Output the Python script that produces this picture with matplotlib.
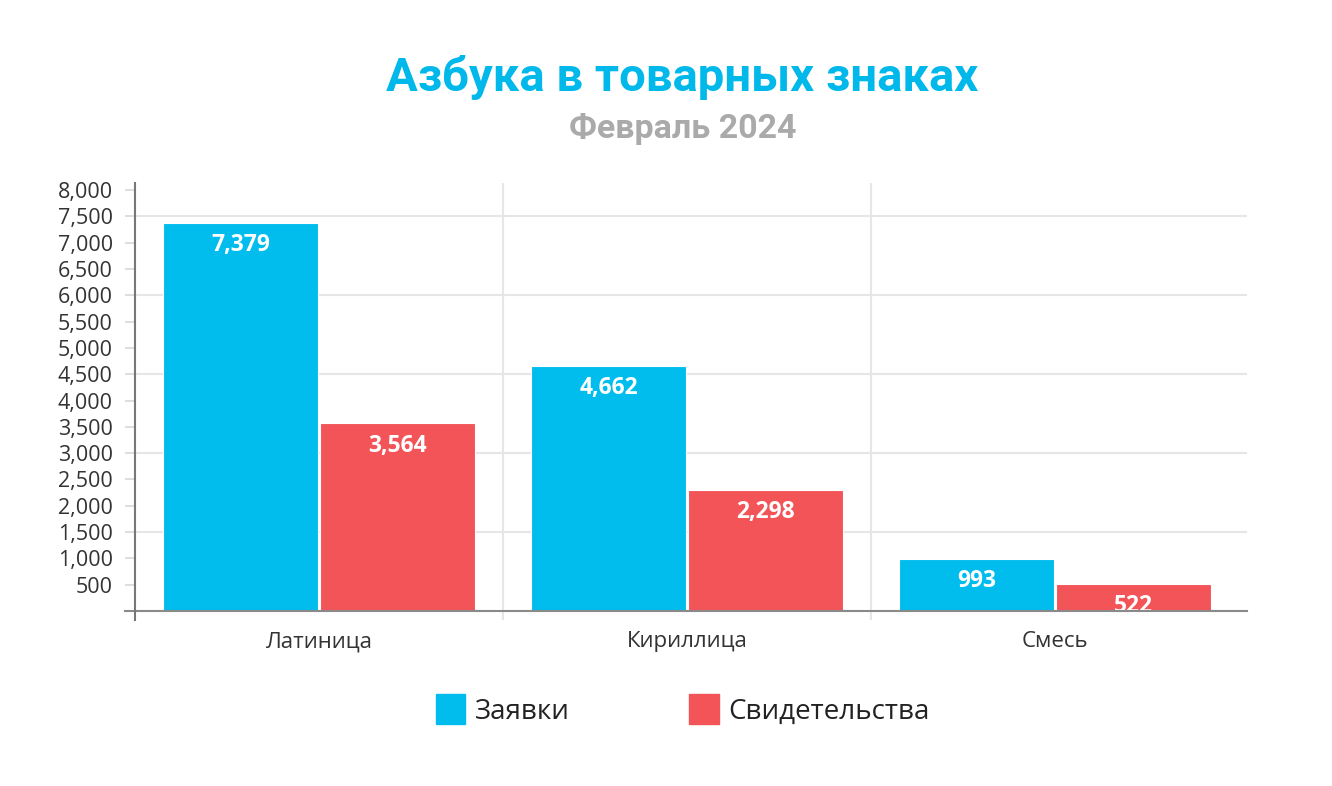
import matplotlib
matplotlib.use("Agg")
import matplotlib.pyplot as plt
from matplotlib.patches import Patch
import numpy as np

categories = ["Латиница", "Кириллица", "Смесь"]
series_names = ["Заявки", "Свидетельства"]
zayavki = [7379, 4662, 993]
svidetelstva = [3564, 2298, 522]
y_ticks = list(range(500, 8001, 500))
y_grid = [1500, 3000, 4500, 6000, 7500]

BLUE = "#00BDEE"
RED = "#F25458"

plt.rcParams['font.family'] = ['Open Sans', 'DejaVu Sans']

fig = plt.figure(figsize=(13.32, 7.86), dpi=100)
W, H = 1332, 786
ax_left, ax_right, ax_top, ax_bottom = 135, 1247, 183, 620
ax = fig.add_axes([ax_left / W, 1 - ax_bottom / H, (ax_right - ax_left) / W, (ax_bottom - ax_top) / H])

px_per_unit = 421 / 8000
ymin = -(ax_bottom - 611) / px_per_unit
ymax = (611 - ax_top) / px_per_unit
ax.set_ylim(ymin, ymax)
cat_w = 368
ax.set_xlim(-0.5, -0.5 + (ax_right - ax_left) / cat_w)

x = np.arange(len(categories))
bw = 0.42
off = 0.213

for v in y_grid:
    ax.axhline(v, color="#E6E6E6", lw=1.5, zorder=0)
for xv in [0.5, 1.5]:
    ax.axvline(xv, color="#E6E6E6", lw=1.5, zorder=0)

b1 = ax.bar(x - off, zayavki, width=bw, color=BLUE, edgecolor="white", linewidth=0.8, zorder=2)
b2 = ax.bar(x + off, svidetelstva, width=bw, color=RED, edgecolor="white", linewidth=0.8, zorder=2)

for bars, vals in [(b1, zayavki), (b2, svidetelstva)]:
    for rect, v in zip(bars, vals):
        ax.annotate(f"{v:,}", (rect.get_x() + rect.get_width() / 2, v),
                    xytext=(0, -16), textcoords="offset points",
                    ha="center", va="center", color="white",
                    fontsize=16.5, fontweight="bold", zorder=3, clip_on=False)

ax.axhline(0, xmin=-0.009, xmax=1, color="#8A8A8A", lw=1.5, zorder=4, clip_on=False)

for s in ["top", "right", "bottom"]:
    ax.spines[s].set_visible(False)
ax.spines["left"].set_color("#777777")
ax.spines["left"].set_linewidth(1.5)
ax.spines["left"].set_zorder(5)

ax.set_yticks(y_ticks)
ax.set_yticklabels([f"{v:,}" for v in y_ticks])
ax.tick_params(axis="y", length=7, width=1.2, color="#D8D8D8", labelsize=15.5,
               labelcolor="#333333", pad=9)
ax.set_xticks(x)
ax.set_xticklabels(categories)
ax.tick_params(axis="x", length=0, labelsize=16, labelcolor="#333333", pad=8)

fig.text(682 / W, 1 - 77 / H, "Азбука в товарных знаках", ha="center", va="center",
         fontsize=34, fontweight="bold", color="#00B8EA", family=["Roboto", "DejaVu Sans"])
fig.text(683 / W, 1 - 129 / H, "Февраль 2024", ha="center", va="center",
         fontsize=24.5, fontweight="bold", color="#AAAAAA", family=["Roboto", "DejaVu Sans"])

handles = [Patch(facecolor=BLUE, edgecolor=BLUE), Patch(facecolor=RED, edgecolor=RED)]
fig.legend(handles, series_names, loc="center", bbox_to_anchor=(683 / W, 1 - 710 / H),
           ncol=2, frameon=False, fontsize=20, handlelength=1.05, handleheight=1.25,
           handletextpad=0.35, columnspacing=4.3, labelcolor="#222222")

fig.savefig("out.png", dpi=100, facecolor="white")
